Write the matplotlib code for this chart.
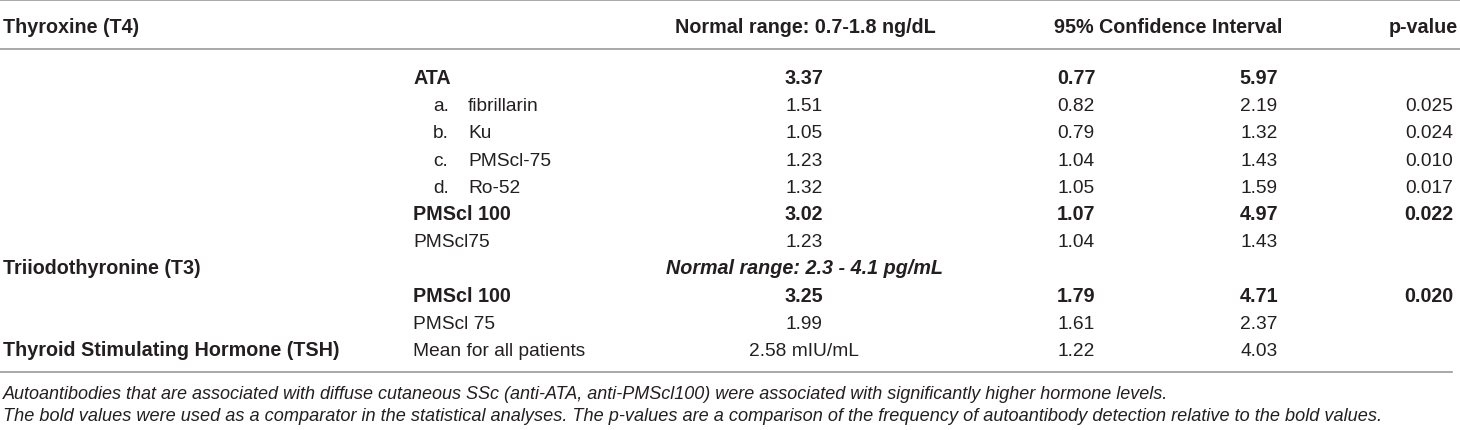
import matplotlib
matplotlib.use('Agg')
import matplotlib.pyplot as plt

plt.rcParams['font.family'] = ['Liberation Sans', 'DejaVu Sans']

# Table content
hormones = ['Thyroxine (T4)', 'Triiodothyronine (T3)', 'Thyroid Stimulating Hormone (TSH)']
hormone_rows = [-1, 7, 10]
headers = ['Normal range: 0.7-1.8 ng/dL', '95% Confidence Interval', 'p-value']
t3_range = 'Normal range: 2.3 - 4.1 pg/mL'
t3_range_row = 7

prefixes = ['', 'a.', 'b.', 'c.', 'd.', '', '', '', '', '']
antibodies = ['ATA', 'fibrillarin', 'Ku', 'PMScl-75', 'Ro-52', 'PMScl 100', 'PMScl75',
              'PMScl 100', 'PMScl 75', 'Mean for all patients']
data_rows = [0, 1, 2, 3, 4, 5, 6, 8, 9, 10]
means = ['3.37', '1.51', '1.05', '1.23', '1.32', '3.02', '1.23', '3.25', '1.99', '2.58 mIU/mL']
ci_low = ['0.77', '0.82', '0.79', '1.04', '1.05', '1.07', '1.04', '1.79', '1.61', '1.22']
ci_high = ['5.97', '2.19', '1.32', '1.43', '1.59', '4.97', '1.43', '4.71', '2.37', '4.03']
p_values = ['', '0.025', '0.024', '0.010', '0.017', '0.022', '', '0.020', '', '']
is_bold = [True, False, False, False, False, True, False, True, False, False]

footnotes = [
    'Autoantibodies that are associated with diffuse cutaneous SSc (anti-ATA, anti-PMScl100) '
    'were associated with significantly higher hormone levels.',
    'The bold values were used as a comparator in the statistical analyses. The p-values are a '
    'comparison of the frequency of autoantibody detection relative to the bold values.',
]

W, H = 1460, 431
fig = plt.figure(figsize=(W / 100, H / 100), dpi=100)
ax = fig.add_axes([0, 0, 1, 1])
ax.set_xlim(0, W)
ax.set_ylim(H, 0)
ax.axis('off')

ink = '#231f20'
rule = '#9a9a9a'
fs = 13.8
fs_b = 14.2


def row_y(r):
    if r < 0:
        return 27
    return 78 + 27.2 * r


def put(x, r, s, ha='left', bold=False, italic=False, size=None):
    ax.text(x, row_y(r) + 6, s, ha=ha, va='baseline', color=ink,
            fontsize=size or (fs_b if bold else fs),
            fontweight='bold' if bold else 'normal',
            fontstyle='italic' if italic else 'normal')


# rules
ax.plot([0, W], [1, 1], color=rule, lw=1.2)
ax.plot([0, W], [50, 50], color=rule, lw=1.2)
ax.plot([0, 1452], [373, 373], color=rule, lw=1.2)

# header row
for name, r in zip(hormones, hormone_rows):
    put(3, r, name, bold=True)
put(805, -1, headers[0], ha='center', bold=True)
put(1168, -1, headers[1], ha='center', bold=True)
put(1458, -1, headers[2], ha='right', bold=True)
put(805, t3_range_row, t3_range, ha='center', bold=True, italic=True)

# body
for pre, ab, r, m, lo, hi, p, b in zip(prefixes, antibodies, data_rows, means,
                                        ci_low, ci_high, p_values, is_bold):
    if pre:
        put(433, r, pre)
        put(468, r, ab)
    else:
        put(413, r, ab, bold=b)
    put(804, r, m, ha='center', bold=b)
    put(1076, r, lo, ha='center', bold=b)
    put(1259, r, hi, ha='center', bold=b)
    if p:
        put(1429, r, p, ha='center', bold=b)

# footnotes
ax.text(3, 399, footnotes[0], ha='left', va='baseline', color=ink, fontsize=13.0,
        fontstyle='italic')
ax.text(3, 421, footnotes[1], ha='left', va='baseline', color=ink, fontsize=13.1,
        fontstyle='italic')

fig.savefig('out.png', dpi=100)
